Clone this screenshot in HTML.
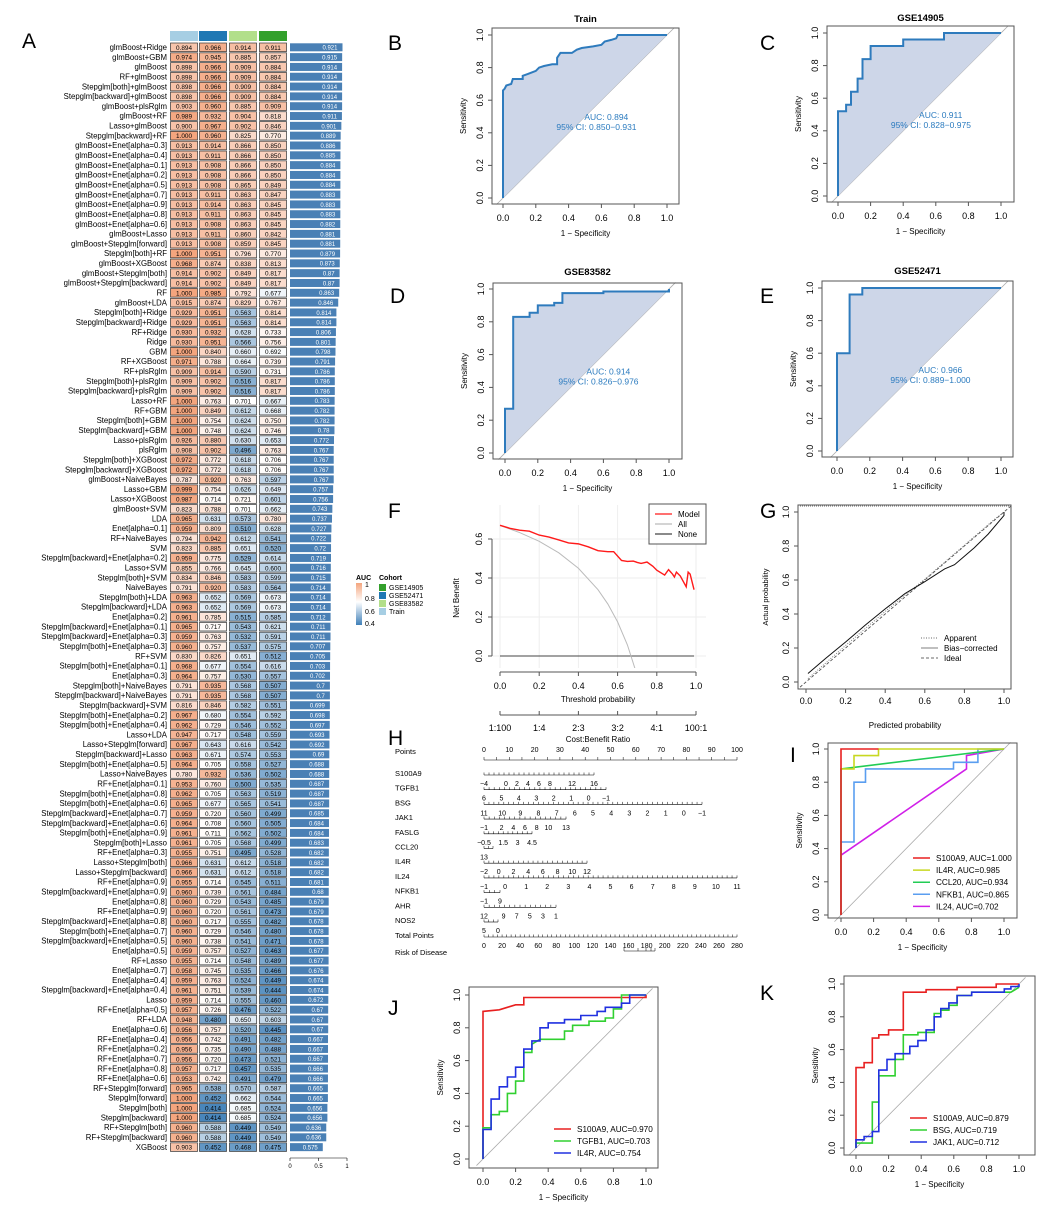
<!DOCTYPE html>
<html><head><meta charset="utf-8"><title>Model AUC figure</title>
<style>
html,body{margin:0;padding:0;background:#fff;}
svg{display:block;font-family:"Liberation Sans",Arial,sans-serif;}
</style></head>
<body>
<svg id="fig" width="1052" height="1214" viewBox="0 0 1052 1214" xmlns="http://www.w3.org/2000/svg"></svg>
<script>
// ---------- Panel A data ----------
const rowNames = ["glmBoost+Ridge","glmBoost+GBM","glmBoost","RF+glmBoost","Stepglm[both]+glmBoost","Stepglm[backward]+glmBoost","glmBoost+plsRglm","glmBoost+RF","Lasso+glmBoost","Stepglm[backward]+RF","glmBoost+Enet[alpha=0.3]","glmBoost+Enet[alpha=0.4]","glmBoost+Enet[alpha=0.1]","glmBoost+Enet[alpha=0.2]","glmBoost+Enet[alpha=0.5]","glmBoost+Enet[alpha=0.7]","glmBoost+Enet[alpha=0.9]","glmBoost+Enet[alpha=0.8]","glmBoost+Enet[alpha=0.6]","glmBoost+Lasso","glmBoost+Stepglm[forward]","Stepglm[both]+RF","glmBoost+XGBoost","glmBoost+Stepglm[both]","glmBoost+Stepglm[backward]","RF","glmBoost+LDA","Stepglm[both]+Ridge","Stepglm[backward]+Ridge","RF+Ridge","Ridge","GBM","RF+XGBoost","RF+plsRglm","Stepglm[both]+plsRglm","Stepglm[backward]+plsRglm","Lasso+RF","RF+GBM","Stepglm[both]+GBM","Stepglm[backward]+GBM","Lasso+plsRglm","plsRglm","Stepglm[both]+XGBoost","Stepglm[backward]+XGBoost","glmBoost+NaiveBayes","Lasso+GBM","Lasso+XGBoost","glmBoost+SVM","LDA","Enet[alpha=0.1]","RF+NaiveBayes","SVM","Stepglm[backward]+Enet[alpha=0.2]","Lasso+SVM","Stepglm[both]+SVM","NaiveBayes","Stepglm[both]+LDA","Stepglm[backward]+LDA","Enet[alpha=0.2]","Stepglm[backward]+Enet[alpha=0.1]","Stepglm[backward]+Enet[alpha=0.3]","Stepglm[both]+Enet[alpha=0.3]","RF+SVM","Stepglm[both]+Enet[alpha=0.1]","Enet[alpha=0.3]","Stepglm[both]+NaiveBayes","Stepglm[backward]+NaiveBayes","Stepglm[backward]+SVM","Stepglm[both]+Enet[alpha=0.2]","Stepglm[both]+Enet[alpha=0.4]","Lasso+LDA","Lasso+Stepglm[forward]","Stepglm[backward]+Lasso","Stepglm[both]+Enet[alpha=0.5]","Lasso+NaiveBayes","RF+Enet[alpha=0.1]","Stepglm[both]+Enet[alpha=0.8]","Stepglm[both]+Enet[alpha=0.6]","Stepglm[backward]+Enet[alpha=0.7]","Stepglm[backward]+Enet[alpha=0.6]","Stepglm[both]+Enet[alpha=0.9]","Stepglm[both]+Lasso","RF+Enet[alpha=0.3]","Lasso+Stepglm[both]","Lasso+Stepglm[backward]","RF+Enet[alpha=0.9]","Stepglm[backward]+Enet[alpha=0.9]","Enet[alpha=0.8]","RF+Enet[alpha=0.9]","Stepglm[backward]+Enet[alpha=0.8]","Stepglm[both]+Enet[alpha=0.7]","Stepglm[backward]+Enet[alpha=0.5]","Enet[alpha=0.5]","RF+Lasso","Enet[alpha=0.7]","Enet[alpha=0.4]","Stepglm[backward]+Enet[alpha=0.4]","Lasso","RF+Enet[alpha=0.5]","RF+LDA","Enet[alpha=0.6]","RF+Enet[alpha=0.4]","RF+Enet[alpha=0.2]","RF+Enet[alpha=0.7]","RF+Enet[alpha=0.8]","RF+Enet[alpha=0.6]","RF+Stepglm[forward]","Stepglm[forward]","Stepglm[both]","Stepglm[backward]","RF+Stepglm[both]","RF+Stepglm[backward]","XGBoost"];
const aucTrain = [0.894,0.974,0.898,0.898,0.898,0.898,0.903,0.989,0.900,1.000,0.913,0.913,0.913,0.913,0.913,0.913,0.913,0.913,0.913,0.913,0.913,1.000,0.968,0.914,0.914,1.000,0.915,0.929,0.929,0.930,0.930,1.000,0.971,0.909,0.909,0.909,1.000,1.000,1.000,1.000,0.926,0.908,0.972,0.972,0.787,0.999,0.987,0.823,0.965,0.959,0.794,0.823,0.959,0.855,0.834,0.791,0.963,0.963,0.961,0.965,0.959,0.960,0.830,0.968,0.964,0.791,0.791,0.816,0.967,0.962,0.947,0.967,0.963,0.964,0.780,0.953,0.962,0.965,0.959,0.964,0.961,0.961,0.955,0.966,0.966,0.955,0.960,0.960,0.960,0.960,0.960,0.960,0.959,0.955,0.958,0.959,0.961,0.959,0.957,0.948,0.956,0.956,0.956,0.956,0.957,0.953,0.965,1.000,1.000,1.000,0.960,0.960,0.903];
const aucGSE52471 = [0.966,0.945,0.966,0.966,0.966,0.966,0.960,0.932,0.967,0.960,0.914,0.911,0.908,0.908,0.908,0.911,0.914,0.911,0.908,0.911,0.908,0.951,0.874,0.902,0.902,0.985,0.874,0.951,0.951,0.932,0.951,0.840,0.788,0.914,0.902,0.902,0.763,0.849,0.754,0.748,0.880,0.902,0.772,0.772,0.920,0.754,0.714,0.788,0.631,0.809,0.942,0.885,0.775,0.766,0.846,0.920,0.652,0.652,0.785,0.717,0.763,0.757,0.826,0.677,0.757,0.935,0.935,0.846,0.680,0.729,0.717,0.643,0.671,0.705,0.932,0.760,0.705,0.677,0.720,0.708,0.711,0.705,0.751,0.631,0.631,0.714,0.739,0.729,0.720,0.717,0.729,0.738,0.757,0.714,0.745,0.763,0.751,0.714,0.726,0.480,0.757,0.742,0.735,0.720,0.717,0.742,0.538,0.452,0.414,0.414,0.588,0.588,0.452];
const aucGSE83582 = [0.914,0.885,0.909,0.909,0.909,0.909,0.885,0.904,0.902,0.825,0.866,0.866,0.866,0.866,0.865,0.863,0.863,0.863,0.863,0.860,0.859,0.796,0.838,0.849,0.849,0.792,0.829,0.563,0.563,0.628,0.566,0.660,0.664,0.590,0.516,0.516,0.701,0.612,0.624,0.624,0.630,0.496,0.618,0.618,0.763,0.626,0.721,0.701,0.573,0.510,0.612,0.651,0.529,0.645,0.583,0.583,0.569,0.569,0.515,0.543,0.532,0.537,0.651,0.554,0.530,0.568,0.568,0.582,0.554,0.546,0.548,0.616,0.574,0.558,0.536,0.500,0.563,0.565,0.560,0.560,0.562,0.568,0.495,0.612,0.612,0.545,0.561,0.543,0.561,0.555,0.546,0.541,0.527,0.548,0.535,0.524,0.539,0.555,0.476,0.650,0.520,0.491,0.490,0.473,0.457,0.491,0.570,0.662,0.685,0.685,0.449,0.449,0.468];
const aucGSE14905 = [0.911,0.857,0.884,0.884,0.884,0.884,0.909,0.818,0.846,0.770,0.850,0.850,0.850,0.850,0.849,0.847,0.845,0.845,0.845,0.842,0.845,0.770,0.813,0.817,0.817,0.677,0.767,0.814,0.814,0.733,0.756,0.692,0.739,0.731,0.817,0.817,0.667,0.668,0.750,0.746,0.653,0.763,0.706,0.706,0.597,0.649,0.601,0.662,0.780,0.628,0.541,0.520,0.614,0.600,0.599,0.564,0.673,0.673,0.585,0.621,0.591,0.575,0.512,0.616,0.557,0.507,0.507,0.551,0.592,0.552,0.559,0.542,0.553,0.527,0.502,0.535,0.519,0.541,0.499,0.505,0.502,0.499,0.528,0.518,0.518,0.511,0.484,0.485,0.473,0.482,0.480,0.471,0.463,0.489,0.466,0.449,0.444,0.460,0.522,0.603,0.445,0.482,0.488,0.521,0.535,0.479,0.587,0.544,0.524,0.524,0.549,0.549,0.475];
const aucMean = [0.921,0.915,0.914,0.914,0.914,0.914,0.914,0.911,0.901,0.889,0.886,0.885,0.884,0.884,0.884,0.883,0.883,0.883,0.882,0.881,0.881,0.879,0.873,0.87,0.87,0.863,0.846,0.814,0.814,0.806,0.801,0.798,0.791,0.786,0.786,0.786,0.783,0.782,0.782,0.78,0.772,0.767,0.767,0.767,0.767,0.757,0.756,0.743,0.737,0.727,0.722,0.72,0.719,0.716,0.715,0.714,0.714,0.714,0.712,0.711,0.711,0.707,0.705,0.703,0.702,0.7,0.7,0.699,0.698,0.697,0.693,0.692,0.69,0.688,0.688,0.687,0.687,0.687,0.685,0.684,0.684,0.683,0.682,0.682,0.682,0.681,0.68,0.679,0.679,0.678,0.678,0.678,0.677,0.677,0.676,0.674,0.674,0.672,0.67,0.67,0.67,0.667,0.667,0.667,0.666,0.666,0.665,0.665,0.656,0.656,0.636,0.636,0.575];
const cohortNames = ["Train","GSE52471","GSE83582","GSE14905"];
const barTicks = [0,0.5,1];

// ---------- ROC data (B-E) ----------
const trainFpr = [0,0,0.01,0.02,0.05,0.06,0.12,0.12,0.15,0.2,0.22,0.25,0.3,0.33,0.33,0.35,0.42,0.45,0.48,0.55,0.6,0.62,0.66,0.69,0.7,1];
const trainTpr = [0,0.66,0.67,0.69,0.70,0.73,0.73,0.75,0.76,0.78,0.80,0.81,0.82,0.82,0.86,0.89,0.89,0.91,0.92,0.93,0.94,0.96,0.97,0.98,1,1];
const gse14905Fpr = [0,0,0.05,0.05,0.08,0.08,0.12,0.12,0.15,0.15,0.2,0.2,0.4,0.4,0.65,0.65,1];
const gse14905Tpr = [0,0.52,0.52,0.56,0.56,0.64,0.64,0.72,0.72,0.84,0.84,0.92,0.92,0.96,0.96,1,1];
const gse83582Fpr = [0,0,0.05,0.05,0.15,0.15,0.2,0.2,0.3,0.3,0.35,0.35,0.6,0.6,1,1];
const gse83582Tpr = [0,0.27,0.27,0.83,0.83,0.855,0.855,0.9,0.9,0.915,0.915,0.975,0.975,0.985,0.985,1];
const gse52471Fpr = [0,0,0.077,0.077,0.154,0.154,1];
const gse52471Tpr = [0,0.6,0.6,0.96,0.96,1,1];

// ---------- I ----------
const iS100a9Fpr=[0,0,0,0.23], iS100a9Tpr=[0,0.88,1,1];
const iIl4rFpr=[0,0.08,0.08,0.23,0.23,1], iIl4rTpr=[0.88,0.88,0.96,0.96,1,1];
const iCcl20Fpr=[0,0,1], iCcl20Tpr=[0,0.88,1];
const iNfkb1Fpr=[0,0,0.08,0.08,0.15,0.15,0.69,0.69,0.84,0.84,1], iNfkb1Tpr=[0.36,0.44,0.44,0.8,0.8,0.88,0.88,0.92,0.92,1,1];
const iIl24Fpr=[0,0,0.77,0.77,1], iIl24Tpr=[0,0.36,0.88,0.96,1];
// ---------- J ----------
const jS100a9Fpr=[0,0,0.1,0.15,0.2,0.25,0.25,1,1], jS100a9Tpr=[0,0.9,0.91,0.925,0.94,0.94,0.985,0.985,1];
const jTgfb1Fpr=[0,0,0.05,0.05,0.1,0.1,0.15,0.15,0.2,0.2,0.25,0.25,0.3,0.3,0.35,0.5,0.5,0.55,0.55,0.65,0.65,0.75,0.75,0.8,0.8,0.85,0.85,1];
const jTgfb1Tpr=[0,0.19,0.19,0.27,0.27,0.29,0.29,0.4,0.4,0.475,0.475,0.65,0.65,0.7,0.73,0.73,0.78,0.78,0.815,0.815,0.84,0.84,0.86,0.86,0.915,0.915,1,1];
const jIl4rFpr=[0,0,0.05,0.05,0.1,0.1,0.15,0.15,0.2,0.2,0.25,0.25,0.3,0.3,0.35,0.35,0.4,0.4,0.5,0.5,0.6,0.6,0.7,0.7,0.75,0.75,0.85,0.85,0.9,0.9,1];
const jIl4rTpr=[0,0.18,0.18,0.365,0.365,0.44,0.44,0.5,0.5,0.56,0.56,0.67,0.67,0.72,0.72,0.8,0.8,0.83,0.83,0.85,0.85,0.875,0.875,0.9,0.9,0.925,0.925,0.95,0.95,1,1];
// ---------- K ----------
const kS100a9Fpr=[0,0,0.05,0.05,0.1,0.1,0.14,0.14,0.2,0.2,0.29,0.29,0.43,0.43,0.62,0.62,0.86,0.86,1];
const kS100a9Tpr=[0,0.49,0.49,0.52,0.52,0.67,0.67,0.69,0.69,0.72,0.72,0.95,0.95,0.965,0.965,0.98,0.98,1,1];
const kBsgFpr=[0,0,0.1,0.1,0.14,0.14,0.24,0.24,0.29,0.29,0.38,0.38,0.48,0.48,0.52,0.52,0.57,0.57,0.62,0.62,0.71,0.71,0.95,1];
const kBsgTpr=[0,0.03,0.03,0.28,0.28,0.44,0.44,0.54,0.54,0.69,0.69,0.705,0.705,0.82,0.82,0.84,0.84,0.87,0.87,0.93,0.93,0.95,0.95,0.98];
const kJak1Fpr=[0,0,0.05,0.05,0.1,0.1,0.14,0.14,0.19,0.19,0.24,0.24,0.33,0.33,0.38,0.38,0.43,0.43,0.48,0.48,0.52,0.52,0.57,0.57,0.62,0.62,0.71,0.71,0.91,0.91,0.95,0.95,1,1];
const kJak1Tpr=[0,0.05,0.05,0.07,0.07,0.1,0.1,0.475,0.475,0.54,0.54,0.575,0.575,0.62,0.62,0.655,0.655,0.72,0.72,0.8,0.8,0.85,0.85,0.885,0.885,0.93,0.93,0.95,0.95,0.97,0.97,0.985,0.985,1];

// ---------- F (DCA) ----------
const dcaThresh=[0,0.05,0.1,0.15,0.2,0.25,0.3,0.35,0.4,0.45,0.5,0.55,0.58,0.62,0.65,0.68,0.7,0.72,0.75,0.78,0.8,0.84,0.86,0.88,0.89,0.9,0.92,0.95,0.96,0.97,0.99];
const dcaModel=[0.67,0.655,0.645,0.64,0.62,0.61,0.595,0.58,0.575,0.56,0.54,0.535,0.535,0.49,0.485,0.487,0.48,0.475,0.482,0.46,0.44,0.415,0.443,0.42,0.405,0.43,0.41,0.355,0.43,0.42,0.34];
const dcaAllThresh=[0,0.1,0.2,0.3,0.4,0.5,0.55,0.6,0.65,0.7];
const dcaAll=[0.67,0.633,0.588,0.529,0.45,0.34,0.267,0.175,0.057,-0.1];
const dcaTicks=[0,0.2,0.4,0.6,0.8,1.0];
const dcaYTicks=[0,0.2,0.4,0.6];
const costRatioLabels=["1:100","1:4","2:3","3:2","4:1","100:1"];

// ---------- G (calibration) ----------
const calPred=[0.01,0.1,0.2,0.3,0.4,0.5,0.6,0.7,0.75,0.8,0.85,0.92,1.0,1.0];
const calBias=[0.05,0.14,0.235,0.335,0.43,0.52,0.59,0.665,0.69,0.74,0.79,0.87,0.98,1.0];
const calAppPred=[0.01,0.2,0.4,0.6,0.8,0.95,1.0];
const calApparent=[0.02,0.215,0.415,0.605,0.805,0.955,1.0];

// ---------- helpers ----------
const svg=document.getElementById('fig');
const NS='http://www.w3.org/2000/svg';
function mk(tag,attrs,parent,text){const e=document.createElementNS(NS,tag);for(const k in attrs)e.setAttribute(k,attrs[k]);if(text!==undefined)e.textContent=text;(parent||svg).appendChild(e);return e;}
function txt(x,y,s,size,anchor,parent,extra){const a={x:x,y:y,'font-size':size,'text-anchor':anchor||'middle',fill:'#000'};if(extra)for(const k in extra)a[k]=extra[k];return mk('text',a,parent,s);}
function fmt(v){return v.toFixed(1);}

// panel letters
const letters=[["A",22,48],["B",388,50],["C",760,50],["D",390,303],["E",760,303],["F",388,518],["G",760,518],["H",388,745],["I",790,762],["J",388,1015],["K",760,1000]];
letters.forEach(l=>{const t=txt(l[1],l[2],l[0],21,'start');

});

// ---------- Panel A heatmap ----------
const gA=mk('g',{});


const colX=[170,199,229,259], colW=28, rowTop=43, rowPitch=9.82, cellH=8.6;
const headerColors=["#a6cee3","#1f78b4","#b2df8a","#33a02c"];
function lerp(a,b,t){return Math.round(a+(b-a)*t);}
function heatColor(v){
  let c1,c2,t;
  if(v>=0.7){t=Math.min(1,(v-0.7)/0.3);c1=[255,255,255];c2=[244,165,126];}
  else{t=Math.min(1,(0.7-v)/0.3);c1=[255,255,255];c2=[64,128,184];}
  return 'rgb('+lerp(c1[0],c2[0],t)+','+lerp(c1[1],c2[1],t)+','+lerp(c1[2],c2[2],t)+')';
}
cohortNames.forEach((c,j)=>{const r=mk('rect',{x:colX[j],y:31,width:colW,height:10,fill:headerColors[j]},gA);

});
const series=[aucTrain,aucGSE52471,aucGSE83582,aucGSE14905];
const barX0=290, barScale=57;
rowNames.forEach((name,i)=>{
  const y=rowTop+i*rowPitch;
  const lab=txt(167,y+cellH-1.6,name,7.8,'end',gA);
  
  
  series.forEach((s,j)=>{
    const r=mk('rect',{x:colX[j]+0.5,y:y,width:colW-1,height:cellH,fill:heatColor(s[i]),stroke:'#333','stroke-width':0.7},gA);
    
    
    txt(colX[j]+colW/2,y+cellH-1.8,s[i].toFixed(3),6.4,'middle',gA);
  });
  const w=aucMean[i]*barScale;
  const b=mk('rect',{x:barX0,y:y+0.3,width:w,height:cellH-0.6,fill:'#4a80b5'},gA);
  
  
  txt(barX0+w-5,y+cellH-1.9,String(aucMean[i]),6,'end',gA,{fill:'#fff'});
});
const axY=1158;
mk('line',{x1:barX0,y1:axY,x2:barX0+barScale,y2:axY,stroke:'#000','stroke-width':0.6},gA);
barTicks.forEach(t=>{const x=barX0+t*barScale;mk('line',{x1:x,y1:axY,x2:x,y2:axY+3,stroke:'#000','stroke-width':0.6},gA);txt(x,axY+10,String(t),6,'middle',gA);});
// legend
const gradDef=mk('defs',{});
const lg=mk('linearGradient',{id:'aucgrad',x1:0,y1:0,x2:0,y2:1},gradDef);
mk('stop',{offset:'0','stop-color':'#f4a57e'},lg);mk('stop',{offset:'0.45','stop-color':'#ffffff'},lg);mk('stop',{offset:'1','stop-color':'#4080b8'},lg);
const gLeg=mk('g',{});


txt(356,580,'AUC',7,'start',gLeg,{'font-weight':'bold'});
mk('rect',{x:356,y:583,width:6,height:42,fill:'url(#aucgrad)'},gLeg);
[["1",587],["0.8",601],["0.6",614],["0.4",626]].forEach(t=>txt(365,t[1],t[0],7,'start',gLeg));
txt(379,580,'Cohort',7,'start',gLeg,{'font-weight':'bold'});
[["GSE14905","#33a02c"],["GSE52471","#1f78b4"],["GSE83582","#b2df8a"],["Train","#a6cee3"]].forEach((c,k)=>{
  mk('rect',{x:379,y:584+k*8,width:7,height:7,fill:c[1]},gLeg);txt(389,590+k*8,c[0],7,'start',gLeg);});

// ---------- generic ROC panel ----------
function rocPanel(cfg){
  const g=mk('g',{});
  
  
  const sx=v=>cfg.x0+v*(cfg.x1-cfg.x0), sy=v=>cfg.y0-v*(cfg.y0-cfg.y1);
  const [l,t,r,b]=cfg.box;
  if(cfg.title){txt((l+r)/2,cfg.titleY,cfg.title,9.5,'middle',g,{'font-weight':'bold'});}
  mk('line',{x1:sx(-0.04),y1:sy(-0.04),x2:sx(1.04),y2:sy(1.04),stroke:'#aaa','stroke-width':0.8},g);
  const drawOrder=cfg.drawOrder||cfg.curves.map((c,k)=>k);
  drawOrder.forEach(k=>{const c=cfg.curves[k];
    let pts=c.fpr.map((f,q)=>sx(f).toFixed(1)+','+sy(c.tpr[q]).toFixed(1));
    if(cfg.fill){
      const poly=mk('polygon',{points:pts.join(' ')+' '+sx(1)+','+sy(1)+' '+sx(0)+','+sy(0),fill:'#cdd6e8',stroke:'none'},g);
      
      
    }
    const pl=mk('polyline',{points:pts.join(' '),fill:'none',stroke:c.color,'stroke-width':cfg.fill?2:1.6,'stroke-linejoin':'miter'},g);
    
    
  });
  mk('rect',{x:l,y:t,width:r-l,height:b-t,fill:'none',stroke:'#555','stroke-width':1},g);
  const ticks=[0,0.2,0.4,0.6,0.8,1.0];
  mk('line',{x1:sx(0),y1:b,x2:sx(1),y2:b,stroke:'#555'},g);
  ticks.forEach(v=>{mk('line',{x1:sx(v),y1:b,x2:sx(v),y2:b+4,stroke:'#555'},g);txt(sx(v),b+17,fmt(v),9,'middle',g);
    mk('line',{x1:l,y1:sy(v),x2:l-4,y2:sy(v),stroke:'#555'},g);
    txt(0,0,fmt(v),9,'middle',g,{transform:'translate('+(l-9)+','+sy(v)+') rotate(-90)'});});
  txt((l+r)/2,b+32,'1 − Specificity',8,'middle',g);
  txt(0,0,'Sensitivity',8,'middle',g,{transform:'translate('+(l-26)+','+((t+b)/2)+') rotate(-90)'});
  if(cfg.aucText){txt(sx(0.63),sy(0.48),cfg.aucText[0],8.5,'middle',g,{fill:'#2b7bbf'});txt(sx(0.57),sy(0.48)+10,cfg.aucText[1],8.5,'middle',g,{fill:'#2b7bbf'});}
  if(cfg.legend){cfg.curves.forEach((c,k)=>{const y=cfg.legend.y+k*cfg.legend.dy;
    mk('line',{x1:cfg.legend.x,y1:y,x2:cfg.legend.x+17,y2:y,stroke:c.color,'stroke-width':1.5},g);
    txt(cfg.legend.x+23,y+3,c.label+', AUC='+c.auc,8.2,'start',g);});}
}
const blue='#2e7bbd';
rocPanel({name:'panel-b-train-roc',title:'Train',titleY:22,x0:503,x1:667,y0:198,y1:35,box:[492,28,679,204],fill:true,curves:[{fpr:trainFpr,tpr:trainTpr,color:blue,label:'train'}],aucText:['AUC: 0.894','95% CI: 0.850−0.931']});
rocPanel({name:'panel-c-gse14905-roc',title:'GSE14905',titleY:21,x0:838,x1:1001,y0:196,y1:33,box:[827,26,1014,202],fill:true,curves:[{fpr:gse14905Fpr,tpr:gse14905Tpr,color:blue,label:'gse14905'}],aucText:['AUC: 0.911','95% CI: 0.828−0.975']});
rocPanel({name:'panel-d-gse83582-roc',title:'GSE83582',titleY:275,x0:505,x1:669,y0:453,y1:289,box:[493,283,682,459],fill:true,curves:[{fpr:gse83582Fpr,tpr:gse83582Tpr,color:blue,label:'gse83582'}],aucText:['AUC: 0.914','95% CI: 0.826−0.976']});
rocPanel({name:'panel-e-gse52471-roc',title:'GSE52471',titleY:274,x0:837,x1:1001,y0:451,y1:288,box:[822,281,1013,457],fill:true,curves:[{fpr:gse52471Fpr,tpr:gse52471Tpr,color:blue,label:'gse52471'}],aucText:['AUC: 0.966','95% CI: 0.889−1.000']});
rocPanel({name:'panel-i-gene-roc',x0:841,x1:1004,y0:915,y1:749,box:[828,743,1017,918],fill:false,legend:{x:913,y:858,dy:12.1},drawOrder:[4,3,2,1,0],curves:[
 {fpr:iS100a9Fpr,tpr:iS100a9Tpr,color:'#e82020',label:'S100A9',auc:'1.000'},
 {fpr:iIl4rFpr,tpr:iIl4rTpr,color:'#c8d820',label:'IL4R',auc:'0.985'},
 {fpr:iCcl20Fpr,tpr:iCcl20Tpr,color:'#22cc55',label:'CCL20',auc:'0.934'},
 {fpr:iNfkb1Fpr,tpr:iNfkb1Tpr,color:'#5a9ef0',label:'NFKB1',auc:'0.865'},
 {fpr:iIl24Fpr,tpr:iIl24Tpr,color:'#d020e8',label:'IL24',auc:'0.702'}]});
rocPanel({name:'panel-j-gene-roc',x0:483,x1:646,y0:1159,y1:995,box:[469,987,658,1168],fill:false,legend:{x:554,y:1129,dy:12},curves:[
 {fpr:jS100a9Fpr,tpr:jS100a9Tpr,color:'#e82020',label:'S100A9',auc:'0.970'},
 {fpr:jTgfb1Fpr,tpr:jTgfb1Tpr,color:'#30d030',label:'TGFB1',auc:'0.703'},
 {fpr:jIl4rFpr,tpr:jIl4rTpr,color:'#2030e0',label:'IL4R',auc:'0.754'}]});
rocPanel({name:'panel-k-gene-roc',x0:856,x1:1019,y0:1148,y1:984,box:[844,976,1035,1155],fill:false,legend:{x:910,y:1118,dy:12},curves:[
 {fpr:kS100a9Fpr,tpr:kS100a9Tpr,color:'#e82020',label:'S100A9',auc:'0.879'},
 {fpr:kBsgFpr,tpr:kBsgTpr,color:'#30d030',label:'BSG',auc:'0.719'},
 {fpr:kJak1Fpr,tpr:kJak1Tpr,color:'#2030e0',label:'JAK1',auc:'0.712'}]});

// ---------- Panel F DCA ----------
(function(){
  const g=mk('g',{});
  
  
  const sx=v=>500+v*196, sy=v=>656-v*195;
  dcaYTicks.forEach(v=>mk('line',{x1:492,y1:sy(v),x2:706,y2:sy(v),stroke:'#eee','stroke-width':1},g));
  dcaTicks.forEach(v=>mk('line',{x1:sx(v),y1:505,x2:sx(v),y2:668,stroke:'#eee','stroke-width':1},g));
  mk('line',{x1:sx(0),y1:sy(0),x2:sx(0.99),y2:sy(0),stroke:'#444','stroke-width':1},g);
  const cp=mk('clipPath',{id:'dcaclip'},g);mk('rect',{x:490,y:500,width:220,height:168},cp);
  const all=mk('polyline',{points:dcaAllThresh.map((t,k)=>sx(t)+','+sy(dcaAll[k])).join(' '),fill:'none',stroke:'#bbb','stroke-width':1,'clip-path':'url(#dcaclip)'},g);
  
  
  const m=mk('polyline',{points:dcaThresh.map((t,k)=>sx(t)+','+sy(dcaModel[k])).join(' '),fill:'none',stroke:'#ff1a1a','stroke-width':1.4},g);
  
  
  mk('line',{x1:492,y1:sy(0),x2:492,y2:sy(0.6),stroke:'#555'},g);
  dcaYTicks.forEach(v=>{mk('line',{x1:488,y1:sy(v),x2:492,y2:sy(v),stroke:'#555'},g);txt(0,0,fmt(v),9,'middle',g,{transform:'translate(482,'+sy(v)+') rotate(-90)'});});
  txt(0,0,'Net Benefit',8,'middle',g,{transform:'translate(459,598) rotate(-90)'});
  mk('line',{x1:sx(0),y1:672,x2:sx(1),y2:672,stroke:'#555'},g);
  dcaTicks.forEach(v=>{mk('line',{x1:sx(v),y1:672,x2:sx(v),y2:676,stroke:'#555'},g);txt(sx(v),689,fmt(v),9,'middle',g);});
  txt(598,702,'Threshold probability',8,'middle',g);
  mk('line',{x1:sx(0),y1:715,x2:sx(1),y2:715,stroke:'#555'},g);
  costRatioLabels.forEach((s,k)=>{const v=dcaTicks[k];mk('line',{x1:sx(v),y1:715,x2:sx(v),y2:711,stroke:'#555'},g);txt(sx(v),731,s,9,'middle',g);});
  txt(598,742,'Cost:Benefit Ratio',8,'middle',g);
  const lgd=mk('g',{},g);
  
  
  mk('rect',{x:649,y:504,width:57,height:40,fill:'#fff',stroke:'#555'},lgd);
  [["Model","#ff1a1a"],["All","#bbb"],["None","#444"]].forEach((e,k)=>{const y=514+k*10;
    mk('line',{x1:655,y1:y,x2:672,y2:y,stroke:e[1],'stroke-width':1.3},lgd);txt(678,y+3,e[0],8,'start',lgd);});
})();

// ---------- Panel G calibration ----------
(function(){
  const g=mk('g',{});
  
  
  const sx=v=>806+v*198, sy=v=>682-v*170;
  mk('line',{x1:sx(-0.03),y1:sy(-0.03),x2:sx(1.04),y2:sy(1.04),stroke:'#555','stroke-width':0.9,'stroke-dasharray':'3,2'},g);
  const ap=mk('polyline',{points:calAppPred.map((p,k)=>sx(p)+','+sy(calApparent[k])).join(' '),fill:'none',stroke:'#777','stroke-width':0.9,'stroke-dasharray':'1,1.5'},g);
  
  
  const bc=mk('polyline',{points:calPred.map((p,k)=>sx(p)+','+sy(calBias[k])).join(' '),fill:'none',stroke:'#111','stroke-width':1},g);
  
  
  mk('line',{x1:800,y1:506,x2:1010,y2:506,stroke:'#888','stroke-width':1.2,'stroke-dasharray':'1,1'},g);
  mk('rect',{x:798,y:505,width:213,height:184,fill:'none',stroke:'#555'},g);
  const tk=[0,0.2,0.4,0.6,0.8,1.0];
  tk.forEach(v=>{mk('line',{x1:sx(v),y1:689,x2:sx(v),y2:693,stroke:'#555'},g);txt(sx(v),704,fmt(v),9,'middle',g);
    mk('line',{x1:798,y1:sy(v),x2:794,y2:sy(v),stroke:'#555'},g);txt(0,0,fmt(v),9,'middle',g,{transform:'translate(789,'+sy(v)+') rotate(-90)'});});
  txt(905,728,'Predicted probability',8,'middle',g);
  txt(0,0,'Actual probability',7.5,'middle',g,{transform:'translate(768,597) rotate(-90)'});
  [["Apparent","1,1.5","#888"],["Bias−corrected","","#999"],["Ideal","3,2","#888"]].forEach((e,k)=>{const y=638+k*10;
    const a={x1:921,y1:y,x2:938,y2:y,stroke:e[2],'stroke-width':1.2};if(e[1])a['stroke-dasharray']=e[1];mk('line',a,g);txt(944,y+3,e[0],8,'start',g);});
})();

// ---------- Panel H nomogram ----------
const nomoVars=["S100A9","TGFB1","BSG","JAK1","FASLG","CCL20","IL4R","IL24","NFKB1","AHR","NOS2"];
const nomoLabels=[["−4","0","2","4","6","8","12","16"],["6","5","4","3","2","1","0","−1"],["11","10","9","8","7","6","5","4","3","2","1","0","−1"],["−1","2","4","6","8","10","13"],["−0.5","1.5","3","4.5"],["13"],["−2","0","2","4","6","8","10","12"],["−1","0","1","2","3","4","5","6","7","8","9","10","11"],["−1","9"],["12","9","7","5","3","1"],["5","0"]];
const nomoLabelVals=[[-4,0,2,4,6,8,12,16],[6,5,4,3,2,1,0,-1],[11,10,9,8,7,6,5,4,3,2,1,0,-1],[-1,2,4,6,8,10,13],[-0.5,1.5,3,4.5],[13],[-2,0,2,4,6,8,10,12],[-1,0,1,2,3,4,5,6,7,8,9,10,11],[-1,9],[12,9,7,5,3,1],[5,0]];
const nomoRange=[[-4,16],[6,-1],[11,-1],[-1,13],[-0.5,4.5],[13,13],[-2,12],[-1,11],[-1,9],[12,1],[5,0]];
const nomoEndPx=[594,606,702,566,532,493,587,737,500,556,498];
const pointsTicks=[0,10,20,30,40,50,60,70,80,90,100];
const totalTicks=[0,20,40,60,80,100,120,140,160,180,200,220,240,260,280];
(function(){
  const g=mk('g',{});
  
  
  const X0=484,X1=737,lx=395;
  txt(lx,754,'Points',7.5,'start',g);
  mk('line',{x1:X0,y1:760,x2:X1,y2:760,stroke:'#000','stroke-width':0.6},g);
  for(let k=0;k<=100;k+=5){const x=X0+k/100*(X1-X0);mk('line',{x1:x,y1:760,x2:x,y2:757,stroke:'#000','stroke-width':0.5},g);}
  pointsTicks.forEach(v=>txt(X0+v/100*(X1-X0),752,String(v),7,'middle',g));
  nomoVars.forEach((name,i)=>{
    const y=775+i*14.7;
    txt(lx,y+1,name,7.5,'start',g);
    const [a,b]=nomoRange[i], xe=nomoEndPx[i];
    const px=v=>a===b?X0:X0+(v-a)/(b-a)*(xe-X0);
    mk('line',{x1:X0,y1:y,x2:xe,y2:y,stroke:'#000','stroke-width':0.6},g);
    const n=Math.max(2,Math.round((xe-X0)/5));
    for(let k=0;k<=n;k++){const x=X0+k/n*(xe-X0);mk('line',{x1:x,y1:y,x2:x,y2:y-2.5,stroke:'#000','stroke-width':0.5},g);}
    nomoLabels[i].forEach((s,k)=>txt(px(nomoLabelVals[i][k]),y+11,s,7,'middle',g));
  });
  const yt=937;
  txt(lx,yt+1,'Total Points',7.5,'start',g);
  mk('line',{x1:X0,y1:yt,x2:X1,y2:yt,stroke:'#000','stroke-width':0.6},g);
  for(let k=0;k<=280;k+=5){const x=X0+k/280*(X1-X0);mk('line',{x1:x,y1:yt,x2:x,y2:yt-2.5,stroke:'#000','stroke-width':0.5},g);}
  totalTicks.forEach(v=>txt(X0+v/280*(X1-X0),yt+11,String(v),7,'middle',g));
  txt(lx,955,'Risk of Disease',7.5,'start',g);
  mk('line',{x1:624,y1:951,x2:655,y2:951,stroke:'#000','stroke-width':0.5},g);
  [624,638,646,651,655].forEach(x=>mk('line',{x1:x,y1:951,x2:x,y2:948,stroke:'#000','stroke-width':0.5},g));
})();
</script>
</body></html>
